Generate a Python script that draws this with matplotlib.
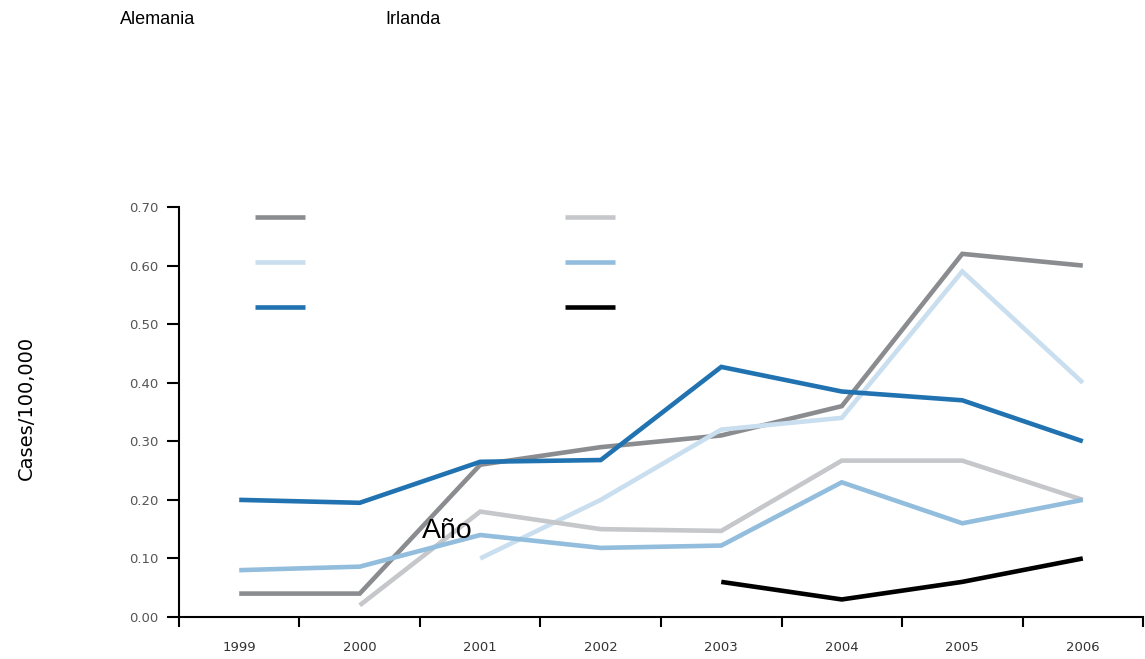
import matplotlib
matplotlib.use("Agg")
import matplotlib.pyplot as plt

years = ["1999", "2000", "2001", "2002", "2003", "2004", "2005", "2006"]

# None = no data for that year
gris_oscuro = [0.04, 0.04, 0.26, 0.29, 0.31, 0.36, 0.62, 0.60]
azul_claro = [None, None, 0.10, 0.20, 0.32, 0.34, 0.59, 0.40]
azul_oscuro = [0.20, 0.195, 0.265, 0.268, 0.427, 0.385, 0.37, 0.30]
gris_claro = [None, 0.02, 0.18, 0.15, 0.147, 0.267, 0.267, 0.20]
azul_medio = [0.08, 0.086, 0.14, 0.118, 0.122, 0.23, 0.16, 0.20]
negro = [None, None, None, None, 0.06, 0.03, 0.06, 0.10]

series = [gris_oscuro, azul_claro, azul_oscuro, gris_claro, azul_medio, negro]
colores = ["#8a8c8f", "#c9deee", "#2172b0", "#c6c7cb", "#92bddc", "#000000"]

fig = plt.figure(figsize=(11.45, 6.59), dpi=100)
ax = fig.add_axes([0.1563, 0.0637, 0.8420, 0.6222])

handles = []
for vals, c in zip(series, colores):
    xs = [i for i, v in enumerate(vals) if v is not None]
    ys = [v for v in vals if v is not None]
    ln, = ax.plot(xs, ys, color=c, lw=3.3, solid_capstyle="butt", solid_joinstyle="miter")
    handles.append(ln)

ax.set_xlim(-0.5, 7.5)
ax.set_ylim(0, 0.7)
ax.set_yticks([0, 0.1, 0.2, 0.3, 0.4, 0.5, 0.6, 0.7])
ax.set_yticklabels(["%.2f" % v for v in ax.get_yticks()])
ax.set_xticks(range(len(years)))
ax.set_xticklabels(years)
ax.set_xticks([i - 0.5 for i in range(len(years) + 1)], minor=True)
ax.tick_params(axis="x", which="major", length=0, pad=17, labelsize=9.5, labelcolor="#333333")
ax.tick_params(axis="x", which="minor", length=7, width=1.5, direction="out")
ax.tick_params(axis="y", length=9, width=1.5, direction="out", pad=6, labelsize=9.5, labelcolor="#555555")
ax.spines["top"].set_visible(False)
ax.spines["right"].set_visible(False)
ax.spines["left"].set_linewidth(1.5)
ax.spines["bottom"].set_linewidth(1.5)

ax.set_ylabel("Cases/100,000", fontsize=14, family=["Liberation Sans Narrow", "DejaVu Sans"], labelpad=0)
ax.yaxis.set_label_coords(-0.148, 0.51)

ax.legend(handles, [""] * 6, ncol=2, frameon=False, loc="upper left",
          bbox_to_anchor=(0.0717, 1.007), borderpad=0, fontsize=10,
          handlelength=3.6, handletextpad=0, columnspacing=18.7, labelspacing=2.22)

ax.text(0.252, 0.1927, "Año", transform=ax.transAxes, fontsize=20.5, family="Liberation Sans",
        ha="left", va="baseline")
fig.text(0.1048, 0.970, "Alemania", fontsize=13, family="Liberation Sans", va="center")
fig.text(0.3362, 0.970, "Irlanda", fontsize=13, family="Liberation Sans", va="center")

fig.savefig("out.png", dpi=100)
